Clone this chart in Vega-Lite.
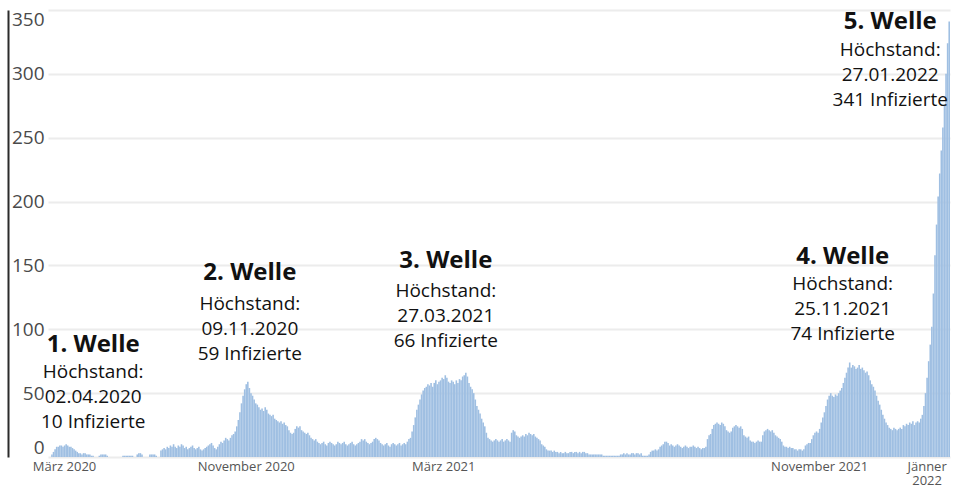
{
"$schema":"https://vega.github.io/schema/vega-lite/v6.json",
"autosize":{"type":"none"},
"padding":{"left":48,"top":10,"right":16,"bottom":32},
"width":902,"height":447,
"background":"white",
"config":{"view":{"stroke":null},"font":"Open Sans"},
"datasets":{
"faelle":[
{"tag":"2020-03-15","anzahl":2},{"tag":"2020-03-17","anzahl":4},{"tag":"2020-03-19","anzahl":6},{"tag":"2020-03-21","anzahl":8},{"tag":"2020-03-23","anzahl":8},{"tag":"2020-03-25","anzahl":9},{"tag":"2020-03-27","anzahl":9},{"tag":"2020-03-29","anzahl":8},{"tag":"2020-03-31","anzahl":9},
{"tag":"2020-04-02","anzahl":10},{"tag":"2020-04-04","anzahl":9},{"tag":"2020-04-06","anzahl":8},{"tag":"2020-04-08","anzahl":8},{"tag":"2020-04-10","anzahl":7},{"tag":"2020-04-12","anzahl":6},{"tag":"2020-04-14","anzahl":5},{"tag":"2020-04-16","anzahl":4},{"tag":"2020-04-18","anzahl":3},{"tag":"2020-04-20","anzahl":3},{"tag":"2020-04-22","anzahl":2},{"tag":"2020-04-24","anzahl":3},{"tag":"2020-04-26","anzahl":3},{"tag":"2020-04-28","anzahl":2},{"tag":"2020-04-30","anzahl":2},
{"tag":"2020-05-02","anzahl":2},{"tag":"2020-05-04","anzahl":1},{"tag":"2020-05-06","anzahl":1},{"tag":"2020-05-08","anzahl":0},{"tag":"2020-05-10","anzahl":0},{"tag":"2020-05-12","anzahl":0},{"tag":"2020-05-14","anzahl":1},{"tag":"2020-05-16","anzahl":2},{"tag":"2020-05-18","anzahl":2},{"tag":"2020-05-20","anzahl":2},{"tag":"2020-05-22","anzahl":2},{"tag":"2020-05-24","anzahl":1},{"tag":"2020-05-26","anzahl":0},{"tag":"2020-05-28","anzahl":0},{"tag":"2020-05-30","anzahl":0},
{"tag":"2020-06-01","anzahl":0},{"tag":"2020-06-03","anzahl":0},{"tag":"2020-06-05","anzahl":0},{"tag":"2020-06-07","anzahl":0},{"tag":"2020-06-09","anzahl":0},{"tag":"2020-06-11","anzahl":0},{"tag":"2020-06-13","anzahl":1},{"tag":"2020-06-15","anzahl":1},{"tag":"2020-06-17","anzahl":1},{"tag":"2020-06-19","anzahl":1},{"tag":"2020-06-21","anzahl":1},{"tag":"2020-06-23","anzahl":1},{"tag":"2020-06-25","anzahl":1},{"tag":"2020-06-27","anzahl":0},{"tag":"2020-06-29","anzahl":0},
{"tag":"2020-07-01","anzahl":2},{"tag":"2020-07-03","anzahl":3},{"tag":"2020-07-05","anzahl":3},{"tag":"2020-07-07","anzahl":2},{"tag":"2020-07-09","anzahl":0},{"tag":"2020-07-11","anzahl":0},{"tag":"2020-07-13","anzahl":0},{"tag":"2020-07-15","anzahl":0},{"tag":"2020-07-17","anzahl":2},{"tag":"2020-07-19","anzahl":2},{"tag":"2020-07-21","anzahl":2},{"tag":"2020-07-23","anzahl":2},{"tag":"2020-07-25","anzahl":1},{"tag":"2020-07-27","anzahl":0},{"tag":"2020-07-29","anzahl":0},{"tag":"2020-07-31","anzahl":5},
{"tag":"2020-08-02","anzahl":6},{"tag":"2020-08-04","anzahl":7},{"tag":"2020-08-06","anzahl":6},{"tag":"2020-08-08","anzahl":8},{"tag":"2020-08-10","anzahl":7},{"tag":"2020-08-12","anzahl":9},{"tag":"2020-08-14","anzahl":8},{"tag":"2020-08-16","anzahl":10},{"tag":"2020-08-18","anzahl":8},{"tag":"2020-08-20","anzahl":7},{"tag":"2020-08-22","anzahl":9},{"tag":"2020-08-24","anzahl":8},{"tag":"2020-08-26","anzahl":10},{"tag":"2020-08-28","anzahl":9},{"tag":"2020-08-30","anzahl":7},
{"tag":"2020-09-01","anzahl":8},{"tag":"2020-09-03","anzahl":6},{"tag":"2020-09-05","anzahl":7},{"tag":"2020-09-07","anzahl":8},{"tag":"2020-09-09","anzahl":9},{"tag":"2020-09-11","anzahl":7},{"tag":"2020-09-13","anzahl":6},{"tag":"2020-09-15","anzahl":7},{"tag":"2020-09-17","anzahl":8},{"tag":"2020-09-19","anzahl":6},{"tag":"2020-09-21","anzahl":5},{"tag":"2020-09-23","anzahl":6},{"tag":"2020-09-25","anzahl":7},{"tag":"2020-09-27","anzahl":8},{"tag":"2020-09-29","anzahl":9},
{"tag":"2020-10-01","anzahl":10},{"tag":"2020-10-03","anzahl":11},{"tag":"2020-10-05","anzahl":9},{"tag":"2020-10-07","anzahl":7},{"tag":"2020-10-09","anzahl":6},{"tag":"2020-10-11","anzahl":8},{"tag":"2020-10-13","anzahl":10},{"tag":"2020-10-15","anzahl":12},{"tag":"2020-10-17","anzahl":11},{"tag":"2020-10-19","anzahl":13},{"tag":"2020-10-21","anzahl":15},{"tag":"2020-10-23","anzahl":14},{"tag":"2020-10-25","anzahl":13},{"tag":"2020-10-27","anzahl":15},{"tag":"2020-10-29","anzahl":17},{"tag":"2020-10-31","anzahl":18},
{"tag":"2020-11-01","anzahl":20},{"tag":"2020-11-02","anzahl":24},{"tag":"2020-11-03","anzahl":29},{"tag":"2020-11-04","anzahl":35},{"tag":"2020-11-05","anzahl":42},{"tag":"2020-11-06","anzahl":48},{"tag":"2020-11-07","anzahl":53},{"tag":"2020-11-08","anzahl":57},{"tag":"2020-11-09","anzahl":59},{"tag":"2020-11-10","anzahl":54},{"tag":"2020-11-11","anzahl":50},{"tag":"2020-11-12","anzahl":48},{"tag":"2020-11-13","anzahl":45},{"tag":"2020-11-14","anzahl":42},{"tag":"2020-11-15","anzahl":41},{"tag":"2020-11-16","anzahl":39},{"tag":"2020-11-17","anzahl":37},{"tag":"2020-11-18","anzahl":38},{"tag":"2020-11-19","anzahl":36},{"tag":"2020-11-20","anzahl":39},{"tag":"2020-11-21","anzahl":37},{"tag":"2020-11-22","anzahl":34},{"tag":"2020-11-23","anzahl":33},{"tag":"2020-11-24","anzahl":32},{"tag":"2020-11-25","anzahl":33},{"tag":"2020-11-26","anzahl":30},{"tag":"2020-11-27","anzahl":29},{"tag":"2020-11-28","anzahl":28},{"tag":"2020-11-29","anzahl":27},{"tag":"2020-11-30","anzahl":28},
{"tag":"2020-12-01","anzahl":26},{"tag":"2020-12-02","anzahl":27},{"tag":"2020-12-03","anzahl":25},{"tag":"2020-12-04","anzahl":24},{"tag":"2020-12-05","anzahl":21},{"tag":"2020-12-06","anzahl":19},{"tag":"2020-12-07","anzahl":18},{"tag":"2020-12-08","anzahl":19},{"tag":"2020-12-09","anzahl":22},{"tag":"2020-12-10","anzahl":24},{"tag":"2020-12-11","anzahl":23},{"tag":"2020-12-12","anzahl":24},{"tag":"2020-12-13","anzahl":21},{"tag":"2020-12-14","anzahl":20},{"tag":"2020-12-15","anzahl":19},{"tag":"2020-12-16","anzahl":18},{"tag":"2020-12-17","anzahl":19},{"tag":"2020-12-18","anzahl":17},{"tag":"2020-12-19","anzahl":15},{"tag":"2020-12-20","anzahl":14},{"tag":"2020-12-21","anzahl":13},{"tag":"2020-12-22","anzahl":14},{"tag":"2020-12-23","anzahl":12},{"tag":"2020-12-24","anzahl":11},{"tag":"2020-12-25","anzahl":10},{"tag":"2020-12-26","anzahl":11},{"tag":"2020-12-27","anzahl":12},{"tag":"2020-12-28","anzahl":10},{"tag":"2020-12-29","anzahl":9},{"tag":"2020-12-30","anzahl":11},{"tag":"2020-12-31","anzahl":12},
{"tag":"2021-01-01","anzahl":11},{"tag":"2021-01-02","anzahl":10},{"tag":"2021-01-03","anzahl":9},{"tag":"2021-01-04","anzahl":10},{"tag":"2021-01-05","anzahl":12},{"tag":"2021-01-06","anzahl":11},{"tag":"2021-01-07","anzahl":10},{"tag":"2021-01-08","anzahl":11},{"tag":"2021-01-09","anzahl":12},{"tag":"2021-01-10","anzahl":10},{"tag":"2021-01-11","anzahl":9},{"tag":"2021-01-12","anzahl":10},{"tag":"2021-01-13","anzahl":11},{"tag":"2021-01-14","anzahl":12},{"tag":"2021-01-15","anzahl":10},{"tag":"2021-01-16","anzahl":9},{"tag":"2021-01-17","anzahl":10},{"tag":"2021-01-18","anzahl":11},{"tag":"2021-01-19","anzahl":12},{"tag":"2021-01-20","anzahl":14},{"tag":"2021-01-21","anzahl":13},{"tag":"2021-01-22","anzahl":14},{"tag":"2021-01-23","anzahl":12},{"tag":"2021-01-24","anzahl":11},{"tag":"2021-01-25","anzahl":10},{"tag":"2021-01-26","anzahl":11},{"tag":"2021-01-27","anzahl":12},{"tag":"2021-01-28","anzahl":14},{"tag":"2021-01-29","anzahl":15},{"tag":"2021-01-30","anzahl":14},{"tag":"2021-01-31","anzahl":13},
{"tag":"2021-02-01","anzahl":11},{"tag":"2021-02-02","anzahl":10},{"tag":"2021-02-03","anzahl":9},{"tag":"2021-02-04","anzahl":10},{"tag":"2021-02-05","anzahl":11},{"tag":"2021-02-06","anzahl":9},{"tag":"2021-02-07","anzahl":8},{"tag":"2021-02-08","anzahl":10},{"tag":"2021-02-09","anzahl":11},{"tag":"2021-02-10","anzahl":10},{"tag":"2021-02-11","anzahl":9},{"tag":"2021-02-12","anzahl":10},{"tag":"2021-02-13","anzahl":11},{"tag":"2021-02-14","anzahl":9},{"tag":"2021-02-15","anzahl":10},{"tag":"2021-02-16","anzahl":11},{"tag":"2021-02-17","anzahl":10},{"tag":"2021-02-18","anzahl":12},{"tag":"2021-02-19","anzahl":14},{"tag":"2021-02-20","anzahl":15},{"tag":"2021-02-21","anzahl":20},{"tag":"2021-02-22","anzahl":25},{"tag":"2021-02-23","anzahl":31},{"tag":"2021-02-24","anzahl":37},{"tag":"2021-02-25","anzahl":41},{"tag":"2021-02-26","anzahl":45},{"tag":"2021-02-27","anzahl":49},{"tag":"2021-02-28","anzahl":52},
{"tag":"2021-03-01","anzahl":54},{"tag":"2021-03-02","anzahl":55},{"tag":"2021-03-03","anzahl":57},{"tag":"2021-03-04","anzahl":56},{"tag":"2021-03-05","anzahl":58},{"tag":"2021-03-06","anzahl":55},{"tag":"2021-03-07","anzahl":58},{"tag":"2021-03-08","anzahl":60},{"tag":"2021-03-09","anzahl":57},{"tag":"2021-03-10","anzahl":59},{"tag":"2021-03-11","anzahl":60},{"tag":"2021-03-12","anzahl":62},{"tag":"2021-03-13","anzahl":61},{"tag":"2021-03-14","anzahl":64},{"tag":"2021-03-15","anzahl":62},{"tag":"2021-03-16","anzahl":59},{"tag":"2021-03-17","anzahl":58},{"tag":"2021-03-18","anzahl":60},{"tag":"2021-03-19","anzahl":59},{"tag":"2021-03-20","anzahl":57},{"tag":"2021-03-21","anzahl":60},{"tag":"2021-03-22","anzahl":58},{"tag":"2021-03-23","anzahl":61},{"tag":"2021-03-24","anzahl":60},{"tag":"2021-03-25","anzahl":63},{"tag":"2021-03-26","anzahl":64},{"tag":"2021-03-27","anzahl":66},{"tag":"2021-03-28","anzahl":63},{"tag":"2021-03-29","anzahl":58},{"tag":"2021-03-30","anzahl":55},{"tag":"2021-03-31","anzahl":53},
{"tag":"2021-04-01","anzahl":50},{"tag":"2021-04-02","anzahl":45},{"tag":"2021-04-03","anzahl":40},{"tag":"2021-04-04","anzahl":37},{"tag":"2021-04-05","anzahl":34},{"tag":"2021-04-06","anzahl":30},{"tag":"2021-04-07","anzahl":27},{"tag":"2021-04-08","anzahl":24},{"tag":"2021-04-09","anzahl":19},{"tag":"2021-04-10","anzahl":15},{"tag":"2021-04-11","anzahl":14},{"tag":"2021-04-12","anzahl":13},{"tag":"2021-04-13","anzahl":12},{"tag":"2021-04-14","anzahl":13},{"tag":"2021-04-15","anzahl":14},{"tag":"2021-04-16","anzahl":13},{"tag":"2021-04-17","anzahl":12},{"tag":"2021-04-18","anzahl":13},{"tag":"2021-04-19","anzahl":14},{"tag":"2021-04-20","anzahl":12},{"tag":"2021-04-21","anzahl":13},{"tag":"2021-04-22","anzahl":14},{"tag":"2021-04-23","anzahl":13},{"tag":"2021-04-24","anzahl":12},{"tag":"2021-04-25","anzahl":19},{"tag":"2021-04-26","anzahl":21},{"tag":"2021-04-27","anzahl":20},{"tag":"2021-04-28","anzahl":17},{"tag":"2021-04-29","anzahl":16},{"tag":"2021-04-30","anzahl":15},
{"tag":"2021-05-01","anzahl":16},{"tag":"2021-05-02","anzahl":17},{"tag":"2021-05-03","anzahl":16},{"tag":"2021-05-04","anzahl":18},{"tag":"2021-05-05","anzahl":17},{"tag":"2021-05-06","anzahl":19},{"tag":"2021-05-07","anzahl":18},{"tag":"2021-05-08","anzahl":17},{"tag":"2021-05-09","anzahl":18},{"tag":"2021-05-10","anzahl":16},{"tag":"2021-05-11","anzahl":15},{"tag":"2021-05-12","anzahl":14},{"tag":"2021-05-13","anzahl":13},{"tag":"2021-05-14","anzahl":10},{"tag":"2021-05-15","anzahl":9},{"tag":"2021-05-16","anzahl":8},{"tag":"2021-05-17","anzahl":6},{"tag":"2021-05-18","anzahl":5},{"tag":"2021-05-19","anzahl":5},{"tag":"2021-05-20","anzahl":5},{"tag":"2021-05-21","anzahl":4},{"tag":"2021-05-22","anzahl":5},{"tag":"2021-05-23","anzahl":4},{"tag":"2021-05-24","anzahl":4},{"tag":"2021-05-25","anzahl":3},{"tag":"2021-05-26","anzahl":4},{"tag":"2021-05-27","anzahl":3},{"tag":"2021-05-28","anzahl":3},{"tag":"2021-05-29","anzahl":4},{"tag":"2021-05-30","anzahl":3},{"tag":"2021-05-31","anzahl":3},
{"tag":"2021-06-01","anzahl":4},{"tag":"2021-06-02","anzahl":4},{"tag":"2021-06-03","anzahl":3},{"tag":"2021-06-04","anzahl":4},{"tag":"2021-06-05","anzahl":4},{"tag":"2021-06-06","anzahl":3},{"tag":"2021-06-07","anzahl":4},{"tag":"2021-06-08","anzahl":3},{"tag":"2021-06-09","anzahl":4},{"tag":"2021-06-10","anzahl":4},{"tag":"2021-06-11","anzahl":3},{"tag":"2021-06-12","anzahl":3},{"tag":"2021-06-13","anzahl":2},{"tag":"2021-06-14","anzahl":2},{"tag":"2021-06-15","anzahl":2},{"tag":"2021-06-16","anzahl":2},{"tag":"2021-06-17","anzahl":2},{"tag":"2021-06-18","anzahl":2},{"tag":"2021-06-19","anzahl":2},{"tag":"2021-06-20","anzahl":2},{"tag":"2021-06-21","anzahl":2},{"tag":"2021-06-22","anzahl":1},{"tag":"2021-06-23","anzahl":1},{"tag":"2021-06-24","anzahl":1},{"tag":"2021-06-25","anzahl":1},{"tag":"2021-06-26","anzahl":1},{"tag":"2021-06-27","anzahl":1},{"tag":"2021-06-28","anzahl":1},{"tag":"2021-06-29","anzahl":1},{"tag":"2021-06-30","anzahl":1},
{"tag":"2021-07-01","anzahl":1},{"tag":"2021-07-02","anzahl":1},{"tag":"2021-07-03","anzahl":2},{"tag":"2021-07-04","anzahl":2},{"tag":"2021-07-05","anzahl":3},{"tag":"2021-07-06","anzahl":2},{"tag":"2021-07-07","anzahl":3},{"tag":"2021-07-08","anzahl":2},{"tag":"2021-07-09","anzahl":2},{"tag":"2021-07-10","anzahl":3},{"tag":"2021-07-11","anzahl":3},{"tag":"2021-07-12","anzahl":2},{"tag":"2021-07-13","anzahl":3},{"tag":"2021-07-14","anzahl":3},{"tag":"2021-07-15","anzahl":2},{"tag":"2021-07-16","anzahl":3},{"tag":"2021-07-17","anzahl":1},{"tag":"2021-07-18","anzahl":1},{"tag":"2021-07-19","anzahl":1},{"tag":"2021-07-20","anzahl":1},{"tag":"2021-07-21","anzahl":2},{"tag":"2021-07-22","anzahl":4},{"tag":"2021-07-23","anzahl":5},{"tag":"2021-07-24","anzahl":5},{"tag":"2021-07-25","anzahl":6},{"tag":"2021-07-26","anzahl":5},{"tag":"2021-07-27","anzahl":6},{"tag":"2021-07-28","anzahl":8},{"tag":"2021-07-29","anzahl":9},{"tag":"2021-07-30","anzahl":10},{"tag":"2021-07-31","anzahl":12},
{"tag":"2021-08-01","anzahl":12},{"tag":"2021-08-02","anzahl":11},{"tag":"2021-08-03","anzahl":9},{"tag":"2021-08-04","anzahl":10},{"tag":"2021-08-05","anzahl":9},{"tag":"2021-08-06","anzahl":8},{"tag":"2021-08-07","anzahl":9},{"tag":"2021-08-08","anzahl":10},{"tag":"2021-08-09","anzahl":9},{"tag":"2021-08-10","anzahl":8},{"tag":"2021-08-11","anzahl":7},{"tag":"2021-08-12","anzahl":8},{"tag":"2021-08-13","anzahl":9},{"tag":"2021-08-14","anzahl":8},{"tag":"2021-08-15","anzahl":7},{"tag":"2021-08-16","anzahl":8},{"tag":"2021-08-17","anzahl":8},{"tag":"2021-08-18","anzahl":9},{"tag":"2021-08-19","anzahl":8},{"tag":"2021-08-20","anzahl":7},{"tag":"2021-08-21","anzahl":8},{"tag":"2021-08-22","anzahl":7},{"tag":"2021-08-23","anzahl":6},{"tag":"2021-08-24","anzahl":7},{"tag":"2021-08-25","anzahl":7},{"tag":"2021-08-26","anzahl":8},{"tag":"2021-08-27","anzahl":14},{"tag":"2021-08-28","anzahl":17},{"tag":"2021-08-29","anzahl":18},{"tag":"2021-08-30","anzahl":22},{"tag":"2021-08-31","anzahl":25},
{"tag":"2021-09-01","anzahl":26},{"tag":"2021-09-02","anzahl":27},{"tag":"2021-09-03","anzahl":26},{"tag":"2021-09-04","anzahl":25},{"tag":"2021-09-05","anzahl":27},{"tag":"2021-09-06","anzahl":26},{"tag":"2021-09-07","anzahl":24},{"tag":"2021-09-08","anzahl":21},{"tag":"2021-09-09","anzahl":20},{"tag":"2021-09-10","anzahl":19},{"tag":"2021-09-11","anzahl":20},{"tag":"2021-09-12","anzahl":23},{"tag":"2021-09-13","anzahl":24},{"tag":"2021-09-14","anzahl":25},{"tag":"2021-09-15","anzahl":24},{"tag":"2021-09-16","anzahl":23},{"tag":"2021-09-17","anzahl":24},{"tag":"2021-09-18","anzahl":22},{"tag":"2021-09-19","anzahl":17},{"tag":"2021-09-20","anzahl":16},{"tag":"2021-09-21","anzahl":15},{"tag":"2021-09-22","anzahl":16},{"tag":"2021-09-23","anzahl":13},{"tag":"2021-09-24","anzahl":12},{"tag":"2021-09-25","anzahl":12},{"tag":"2021-09-26","anzahl":11},{"tag":"2021-09-27","anzahl":12},{"tag":"2021-09-28","anzahl":13},{"tag":"2021-09-29","anzahl":12},{"tag":"2021-09-30","anzahl":12},
{"tag":"2021-10-01","anzahl":17},{"tag":"2021-10-02","anzahl":20},{"tag":"2021-10-03","anzahl":21},{"tag":"2021-10-04","anzahl":22},{"tag":"2021-10-05","anzahl":21},{"tag":"2021-10-06","anzahl":20},{"tag":"2021-10-07","anzahl":21},{"tag":"2021-10-08","anzahl":19},{"tag":"2021-10-09","anzahl":17},{"tag":"2021-10-10","anzahl":16},{"tag":"2021-10-11","anzahl":15},{"tag":"2021-10-12","anzahl":14},{"tag":"2021-10-13","anzahl":12},{"tag":"2021-10-14","anzahl":9},{"tag":"2021-10-15","anzahl":8},{"tag":"2021-10-16","anzahl":8},{"tag":"2021-10-17","anzahl":7},{"tag":"2021-10-18","anzahl":8},{"tag":"2021-10-19","anzahl":7},{"tag":"2021-10-20","anzahl":7},{"tag":"2021-10-21","anzahl":6},{"tag":"2021-10-22","anzahl":6},{"tag":"2021-10-23","anzahl":5},{"tag":"2021-10-24","anzahl":6},{"tag":"2021-10-25","anzahl":6},{"tag":"2021-10-26","anzahl":5},{"tag":"2021-10-27","anzahl":6},{"tag":"2021-10-28","anzahl":9},{"tag":"2021-10-29","anzahl":10},{"tag":"2021-10-30","anzahl":11},{"tag":"2021-10-31","anzahl":11},
{"tag":"2021-11-01","anzahl":14},{"tag":"2021-11-02","anzahl":17},{"tag":"2021-11-03","anzahl":19},{"tag":"2021-11-04","anzahl":20},{"tag":"2021-11-05","anzahl":19},{"tag":"2021-11-06","anzahl":22},{"tag":"2021-11-07","anzahl":27},{"tag":"2021-11-08","anzahl":31},{"tag":"2021-11-09","anzahl":35},{"tag":"2021-11-10","anzahl":40},{"tag":"2021-11-11","anzahl":45},{"tag":"2021-11-12","anzahl":48},{"tag":"2021-11-13","anzahl":50},{"tag":"2021-11-14","anzahl":48},{"tag":"2021-11-15","anzahl":47},{"tag":"2021-11-16","anzahl":49},{"tag":"2021-11-17","anzahl":48},{"tag":"2021-11-18","anzahl":50},{"tag":"2021-11-19","anzahl":52},{"tag":"2021-11-20","anzahl":54},{"tag":"2021-11-21","anzahl":58},{"tag":"2021-11-22","anzahl":62},{"tag":"2021-11-23","anzahl":66},{"tag":"2021-11-24","anzahl":70},{"tag":"2021-11-25","anzahl":74},{"tag":"2021-11-26","anzahl":70},{"tag":"2021-11-27","anzahl":72},{"tag":"2021-11-28","anzahl":71},{"tag":"2021-11-29","anzahl":69},{"tag":"2021-11-30","anzahl":70},
{"tag":"2021-12-01","anzahl":72},{"tag":"2021-12-02","anzahl":69},{"tag":"2021-12-03","anzahl":70},{"tag":"2021-12-04","anzahl":68},{"tag":"2021-12-05","anzahl":66},{"tag":"2021-12-06","anzahl":67},{"tag":"2021-12-07","anzahl":64},{"tag":"2021-12-08","anzahl":60},{"tag":"2021-12-09","anzahl":57},{"tag":"2021-12-10","anzahl":55},{"tag":"2021-12-11","anzahl":52},{"tag":"2021-12-12","anzahl":48},{"tag":"2021-12-13","anzahl":44},{"tag":"2021-12-14","anzahl":41},{"tag":"2021-12-15","anzahl":37},{"tag":"2021-12-16","anzahl":33},{"tag":"2021-12-17","anzahl":30},{"tag":"2021-12-18","anzahl":27},{"tag":"2021-12-19","anzahl":25},{"tag":"2021-12-20","anzahl":23},{"tag":"2021-12-21","anzahl":22},{"tag":"2021-12-22","anzahl":21},{"tag":"2021-12-23","anzahl":23},{"tag":"2021-12-24","anzahl":22},{"tag":"2021-12-25","anzahl":21},{"tag":"2021-12-26","anzahl":22},{"tag":"2021-12-27","anzahl":23},{"tag":"2021-12-28","anzahl":22},{"tag":"2021-12-29","anzahl":25},{"tag":"2021-12-30","anzahl":24},{"tag":"2021-12-31","anzahl":26},
{"tag":"2022-01-01","anzahl":25},{"tag":"2022-01-02","anzahl":27},{"tag":"2022-01-03","anzahl":26},{"tag":"2022-01-04","anzahl":28},{"tag":"2022-01-05","anzahl":25},{"tag":"2022-01-06","anzahl":27},{"tag":"2022-01-07","anzahl":28},{"tag":"2022-01-08","anzahl":27},{"tag":"2022-01-09","anzahl":30},{"tag":"2022-01-10","anzahl":33},{"tag":"2022-01-11","anzahl":40},{"tag":"2022-01-12","anzahl":50},{"tag":"2022-01-13","anzahl":62},{"tag":"2022-01-14","anzahl":75},{"tag":"2022-01-15","anzahl":88},{"tag":"2022-01-16","anzahl":102},{"tag":"2022-01-17","anzahl":128},{"tag":"2022-01-18","anzahl":158},{"tag":"2022-01-19","anzahl":182},{"tag":"2022-01-20","anzahl":204},{"tag":"2022-01-21","anzahl":222},{"tag":"2022-01-22","anzahl":240},{"tag":"2022-01-23","anzahl":258},{"tag":"2022-01-24","anzahl":276},{"tag":"2022-01-25","anzahl":300},{"tag":"2022-01-26","anzahl":324},{"tag":"2022-01-27","anzahl":341}
],
"wellen":[
{"welle":"1. Welle","tag":"2020-04-02","datum":"02.04.2020","anzahl":10},
{"welle":"2. Welle","tag":"2020-11-09","datum":"09.11.2020","anzahl":59},
{"welle":"3. Welle","tag":"2021-03-27","datum":"27.03.2021","anzahl":66},
{"welle":"4. Welle","tag":"2021-11-25","datum":"25.11.2021","anzahl":74},
{"welle":"5. Welle","tag":"2022-01-27","datum":"27.01.2022","anzahl":341}
]
},
"encoding":{
"x":{"field":"tag","type":"ordinal",
 "scale":{"type":"band","paddingInner":0,"paddingOuter":2.225,"align":1},
 "axis":{"title":null,"domain":false,"ticks":false,"grid":false,"labelAngle":0,
  "values":["2020-03-31","2020-11-08","2021-03-13","2021-11-06","2022-01-13"],
  "labelExpr":"substring(datum.value,0,7) == '2020-03' ? 'März 2020' : substring(datum.value,0,7) == '2020-11' ? 'November 2020' : substring(datum.value,0,7) == '2021-03' ? 'März 2021' : substring(datum.value,0,7) == '2021-11' ? 'November 2021' : ['Jänner', '2022']",
  "labelFont":"Open Sans","labelFontSize":13,"labelColor":"#555555","labelPadding":3,"labelOverlap":false,"labelFlush":false,"labelLineHeight":14}},
"y":{"field":"anzahl","type":"quantitative",
 "scale":{"domain":[0,350],"nice":false},
 "axis":{"title":null,"values":[0,50,100,150,200,250,300,350],"offset":40,"ticks":false,"tickSize":0,
  "labelPadding":-36,"labelAlign":"right","labelFont":"Open Sans","labelFontSize":19,"labelColor":"#4a4a4a",
  "labelBaseline":{"condition":[{"test":"datum.value == 350","value":"top"},{"test":"datum.value == 0","value":"bottom"}],"value":"middle"},
  "domainColor":"#2b2b2b","domainWidth":2,"grid":true,"gridColor":"#ececec","gridWidth":2}}
},
"layer":[
{"data":{"name":"faelle"},"mark":{"type":"bar","color":"#9fbfe2"}},
{"data":{"name":"wellen"},"transform":[{"filter":"datum.welle == '1. Welle'"},{"calculate":"['Höchstand:', datum.datum, datum.anzahl + ' Infizierte']","as":"text_zeilen"}],
 "layer":[
  {"mark":{"type":"text","font":"Open Sans","fontWeight":"bold","fontSize":24,"color":"#111111","baseline":"middle","dx":27,"dy":-99},"encoding":{"text":{"field":"welle","type":"nominal"}}},
  {"mark":{"type":"text","font":"Open Sans","fontSize":19,"lineHeight":25,"color":"#111111","baseline":"middle","dx":27,"dy":-72},"encoding":{"text":{"field":"text_zeilen","type":"nominal"}}}
 ]},
{"data":{"name":"wellen"},"transform":[{"filter":"datum.welle == '2. Welle'"},{"calculate":"['Höchstand:', datum.datum, datum.anzahl + ' Infizierte']","as":"text_zeilen"}],
 "layer":[
  {"mark":{"type":"text","font":"Open Sans","fontWeight":"bold","fontSize":24,"color":"#111111","baseline":"middle","dx":2,"dy":-109},"encoding":{"text":{"field":"welle","type":"nominal"}}},
  {"mark":{"type":"text","font":"Open Sans","fontSize":19,"lineHeight":25,"color":"#111111","baseline":"middle","dx":2,"dy":-78},"encoding":{"text":{"field":"text_zeilen","type":"nominal"}}}
 ]},
{"data":{"name":"wellen"},"transform":[{"filter":"datum.welle == '3. Welle'"},{"calculate":"['Höchstand:', datum.datum, datum.anzahl + ' Infizierte']","as":"text_zeilen"}],
 "layer":[
  {"mark":{"type":"text","font":"Open Sans","fontWeight":"bold","fontSize":24,"color":"#111111","baseline":"middle","dx":-20,"dy":-112},"encoding":{"text":{"field":"welle","type":"nominal"}}},
  {"mark":{"type":"text","font":"Open Sans","fontSize":19,"lineHeight":25,"color":"#111111","baseline":"middle","dx":-20,"dy":-82},"encoding":{"text":{"field":"text_zeilen","type":"nominal"}}}
 ]},
{"data":{"name":"wellen"},"transform":[{"filter":"datum.welle == '4. Welle'"},{"calculate":"['Höchstand:', datum.datum, datum.anzahl + ' Infizierte']","as":"text_zeilen"}],
 "layer":[
  {"mark":{"type":"text","font":"Open Sans","fontWeight":"bold","fontSize":24,"color":"#111111","baseline":"middle","dx":-7,"dy":-105},"encoding":{"text":{"field":"welle","type":"nominal"}}},
  {"mark":{"type":"text","font":"Open Sans","fontSize":19,"lineHeight":25,"color":"#111111","baseline":"middle","dx":-7,"dy":-78},"encoding":{"text":{"field":"text_zeilen","type":"nominal"}}}
 ]},
{"data":{"name":"wellen"},"transform":[{"filter":"datum.welle == '5. Welle'"},{"calculate":"['Höchstand:', datum.datum, datum.anzahl + ' Infizierte']","as":"text_zeilen"}],
 "layer":[
  {"mark":{"type":"text","font":"Open Sans","fontWeight":"bold","fontSize":24,"color":"#111111","baseline":"middle","dx":-59,"dy":1},"encoding":{"text":{"field":"welle","type":"nominal"}}},
  {"mark":{"type":"text","font":"Open Sans","fontSize":19,"lineHeight":25,"color":"#111111","baseline":"middle","dx":-59,"dy":29},"encoding":{"text":{"field":"text_zeilen","type":"nominal"}}}
 ]}
]
}
